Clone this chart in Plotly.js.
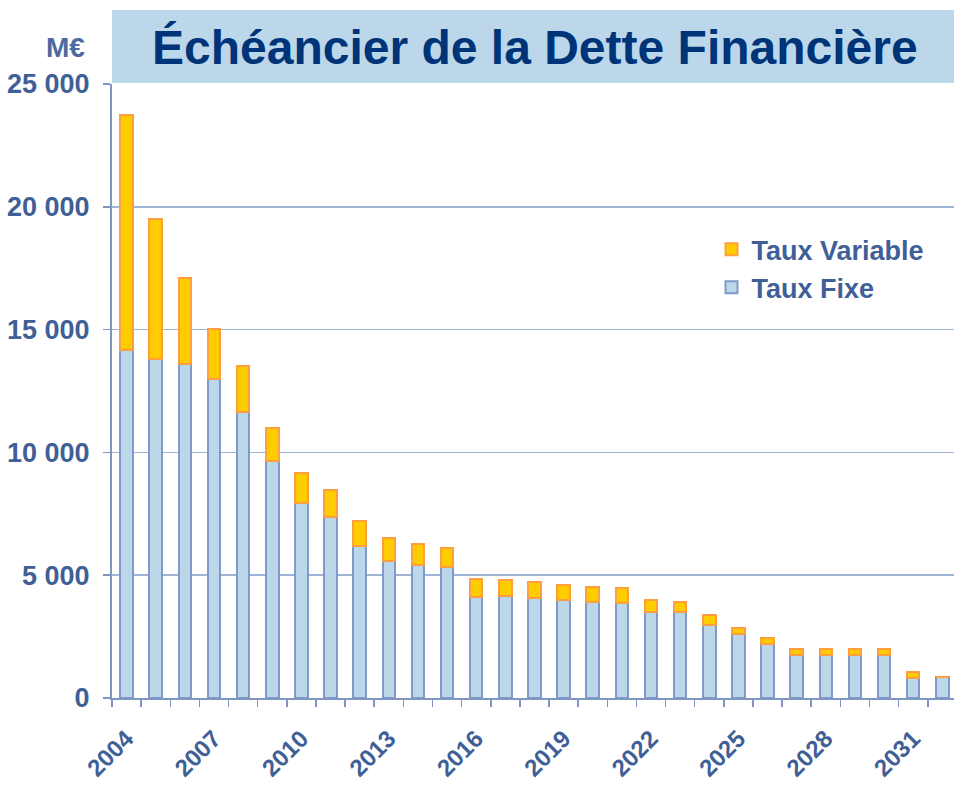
<!DOCTYPE html>
<html>
<head>
<meta charset="utf-8">
<script src="https://cdn.plot.ly/plotly-3.0.1.min.js"></script>
<style>html,body{margin:0;padding:0;background:#fff;}#chart{width:954px;height:785px;}</style>
</head>
<body>
<div id="chart"></div>
<script>
const years = [2004,2005,2006,2007,2008,2009,2010,2011,2012,2013,2014,2015,2016,2017,2018,2019,2020,2021,2022,2023,2024,2025,2026,2027,2028,2029,2030,2031,2032];
const tauxFixe = [14150,13790,13590,12980,11630,9660,7960,7380,6190,5560,5420,5320,4130,4140,4070,4000,3920,3870,3510,3500,2990,2610,2200,1770,1770,1770,1770,820,860];
const tauxTotal = [23720,19520,17100,15020,13510,11000,9150,8460,7220,6520,6260,6110,4860,4820,4710,4590,4520,4480,3990,3910,3370,2840,2430,2000,2000,2000,2000,1060,860];
const tauxVariable = tauxTotal.map((t,i)=>t - tauxFixe[i]);
const yTickVals = [0,5000,10000,15000,20000,25000];
const yTickText = ["0","5 000","10 000","15 000","20 000","25 000"];
const xTickVals = [2004,2007,2010,2013,2016,2019,2022,2025,2028,2031];
const xTickText = xTickVals.map(String);

const labelColor = '#3F5F97';
const axisColor = '#7F96C0';
const font = 'Liberation Sans, Arial, sans-serif';

const traces = [
  {type:'bar', name:'Taux Fixe', x:years, y:tauxFixe, width:0.43,
   marker:{color:'#BCD7EA', line:{color:'#7F9AC8', width:2}}},
  {type:'bar', name:'Taux Variable', x:years, y:tauxVariable, width:0.43,
   marker:{color:'#FFCC00', line:{color:'#FF9E40', width:2}}}
];

const layout = {
  width:954, height:785,
  margin:{l:112, r:0, t:84, b:87},
  paper_bgcolor:'#fff', plot_bgcolor:'#fff',
  barmode:'stack',
  bargap:0,
  showlegend:true,
  font:{family:font, color:labelColor},
  legend:{x:0.712, y:0.77, xanchor:'left', yanchor:'top', bgcolor:'rgba(0,0,0,0)',
          font:{family:font, size:27, color:labelColor, weight:'bold'}, itemwidth:30, traceorder:'reversed'},
  xaxis:{type:'linear', range:[2003.5,2032.4], tickmode:'array', tickvals:xTickVals, ticktext:xTickText,
         tickangle:-45, ticks:'', ticklabelstandoff:15,
         tickfont:{family:font, size:24, color:labelColor, weight:'bold'},
         showline:true, linecolor:axisColor, linewidth:2, showgrid:false, zeroline:false,
         minor:{ticks:'outside', ticklen:7, tickwidth:1.5, tickcolor:axisColor, tick0:2003.5, dtick:1, showgrid:false}},
  yaxis:{range:[0,25000], tickmode:'array', tickvals:yTickVals, ticktext:yTickText,
         ticks:'outside', ticklen:7, tickwidth:1.5, tickcolor:axisColor, ticklabelstandoff:8,
         tickfont:{family:font, size:27, color:labelColor, weight:'bold'},
         showline:true, linecolor:axisColor, linewidth:2,
         showgrid:true, gridcolor:'#9FB3D4', gridwidth:1.5, zeroline:false},
  shapes:[
    {type:'rect', xref:'paper', yref:'paper', x0:0, x1:1, y0:1.0016, y1:1.1205,
     fillcolor:'#BCD7EA', line:{width:0}, layer:'below'}
  ],
  annotations:[
    {text:'Échéancier de la Dette Financière', xref:'paper', yref:'paper', x:0.502, y:1.059,
     xanchor:'center', yanchor:'middle', showarrow:false,
     font:{family:font, size:48, color:'#003478', weight:'bold'}},
    {text:'M€', xref:'paper', yref:'paper', x:-0.055, y:1.06, xanchor:'center', yanchor:'middle', showarrow:false,
     font:{family:font, size:28, color:'#4A6AA0', weight:'bold'}}
  ]
};

Plotly.newPlot('chart', traces, layout, {displayModeBar:false, staticPlot:true});
</script>
</body>
</html>
